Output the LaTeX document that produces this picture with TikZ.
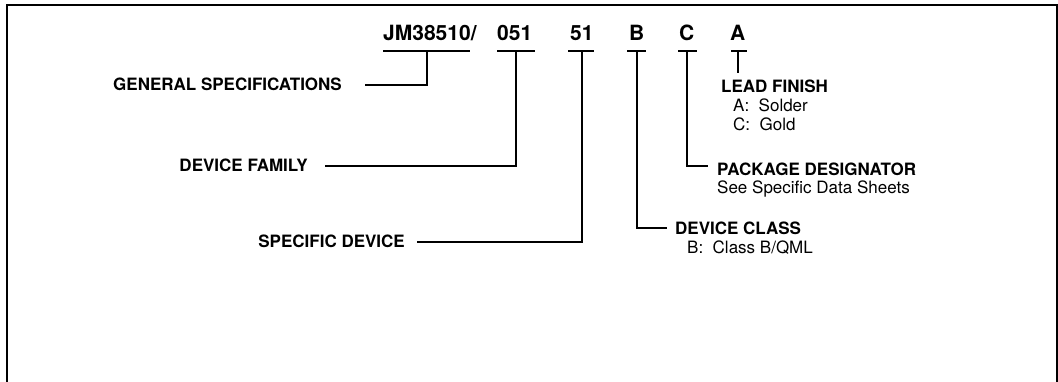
\documentclass[tikz,border=0pt]{standalone}
\usepackage{fontspec}
\setmainfont{TeX Gyre Heros}
\begin{document}
\begin{tikzpicture}[x=1pt,y=-1pt,
  conn/.style={line width=1.2pt},
  frame/.style={line width=2pt},
  topcode/.style={inner sep=0pt, font=\fontsize{21}{24}\selectfont\bfseries},
  lab/.style={inner sep=0pt, font=\fontsize{17}{20}\selectfont\bfseries},
  txt/.style={inner sep=0pt, font=\fontsize{17}{20}\selectfont}]
\useasboundingbox (0,0) rectangle (1058,382);
\draw[frame] (7,382) -- (7,5) -- (1057,5) -- (1057,382);

% top code
\node[topcode, anchor=base west] (jm) at (383,41) {JM38510/};
\node[topcode, anchor=base west] (fam) at (497,41) {051};
\node[topcode, anchor=base west] (dev) at (570,41) {51};
\node[topcode, anchor=base west] (cls) at (629,41) {B};
\node[topcode, anchor=base west] (pkg) at (679,41) {C};
\node[topcode, anchor=base west] (fin) at (730,41) {A};

% underlines
\draw[conn] (383,51) -- (470,51);
\draw[conn] (497,51) -- (535,51);
\draw[conn] (568,51) -- (594,51);
\draw[conn] (627,51) -- (646,51);
\draw[conn] (678,51) -- (697,51);
\draw[conn] (731,51) -- (747,51);

% tick coordinates
\coordinate (t1) at (427,51);
\coordinate (t2) at (516,51);
\coordinate (t3) at (582,51);
\coordinate (t4) at (637,51);
\coordinate (t5) at (687,51);
\coordinate (t6) at (738,51);

% labels
\node[lab, anchor=base east] (gs) at (342,91) {GENERAL SPECIFICATIONS};
\node[lab, anchor=base east] (df) at (308,172) {DEVICE FAMILY};
\node[lab, anchor=base east] (sd) at (405,248) {SPECIFIC DEVICE};
\node[lab, anchor=base west] (dc) at (675,235) {DEVICE CLASS};
\node[txt, anchor=base west] (dc1) at (687,254) {B:\ \ Class B/QML};
\node[lab, anchor=base west] (pd) at (717,176) {PACKAGE DESIGNATOR};
\node[txt, anchor=base west] (pd1) at (717,194) {See Specific Data Sheets};
\node[lab, anchor=base west] (lf) at (721,93) {LEAD FINISH};
\node[txt, anchor=base west] (lf1) at (733,112) {A:\ \ Solder};
\node[txt, anchor=base west] (lf2) at (733,131) {C:\ \ Gold};

% connector ends
\coordinate (e1) at (365,85);
\coordinate (e2) at (325,166);
\coordinate (e3) at (417,242);
\coordinate (e4) at (667,228);
\coordinate (e5) at (708,166);
\coordinate (e6) at (738,73);

\draw[conn] (t1) |- (e1);
\draw[conn] (t2) |- (e2);
\draw[conn] (t3) |- (e3);
\draw[conn] (t4) |- (e4);
\draw[conn] (t5) |- (e5);
\draw[conn] (t6) -- (e6);
\end{tikzpicture}
\end{document}
